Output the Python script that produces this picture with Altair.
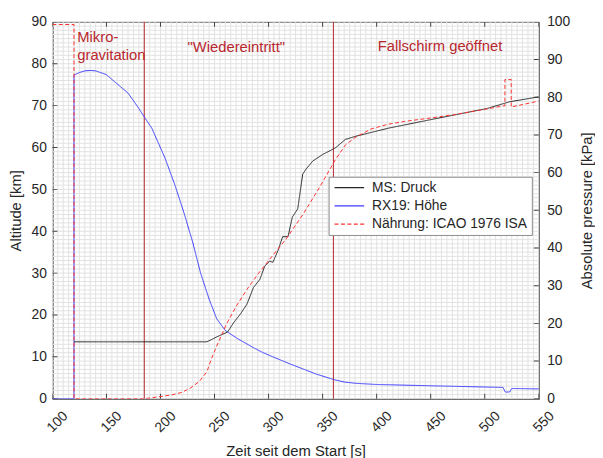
import altair as alt
import pandas as pd

# ---------------- data ----------------
series_names = ["MS: Druck", "RX19: Höhe", "Nährung: ICAO 1976 ISA"]

# RX19 altitude [km]
t_alt = [100, 120, 120, 125, 130, 135, 140, 150, 158, 170, 179, 185, 192, 204, 213, 222,
         230, 237, 245, 252, 260, 271, 286, 295, 304, 320, 344, 360, 370, 380, 400, 450,
         500, 517, 519, 523, 525, 550]
alt_km = [0, 0, 77.3, 77.9, 78.3, 78.4, 78.3, 77.4, 75.6, 73.0, 69.7, 67.3, 64.6, 57.6, 51.3, 44.2,
          37.2, 30.1, 23.8, 19.1, 16.3, 14.4, 12.2, 11.0, 10.0, 8.3, 5.9, 4.6, 4.0, 3.7, 3.4, 3.1,
          2.8, 2.7, 1.6, 1.6, 2.45, 2.35]

# MS pressure [kPa]
t_ms = [120, 243, 252, 262, 268, 274, 280, 286, 292, 296.5, 301, 304, 309, 313, 318, 322, 327,
        331.6, 334.6, 341, 350, 362, 371, 380, 411, 456, 502, 523, 550]
p_ms = [15.1, 15.1, 16.4, 17.7, 20.3, 22.5, 25.1, 29.5, 31.7, 35.2, 36.5, 36.2, 39.5, 43.0, 43.0,
        48.2, 50.4, 59.6, 60.9, 63.1, 64.8, 66.6, 68.8, 69.6, 71.8, 74.4, 77.0, 78.8, 80.1]

# ICAO 1976 ISA approximation [kPa]
t_isa = [100, 120, 120, 185, 198, 210, 220, 228, 236, 243, 247, 252, 256, 261, 270, 280, 290,
         301, 316, 332, 347, 362, 371, 380, 395, 410, 426, 450, 472, 500, 517, 518.7, 518.7,
         524.5, 524.5, 550]
p_isa = [99.3, 99.3, 0, 0, 0.5, 1.0, 1.7, 2.9, 4.6, 7.2, 10.5, 14.0, 16.5, 19.8, 24.5, 29.0, 33.0,
         37.0, 42.3, 49.0, 56.0, 63.5, 67.3, 69.3, 71.6, 72.8, 73.6, 74.5, 75.4, 76.8, 77.7, 77.7, 84.7,
         84.7, 77.4, 79.0]

phase_lines = [185, 360]
ann_text = ["Mikro-", "gravitation", '"Wiedereintritt"', "Fallschirm geöffnet"]
ann_t = [123, 123, 225, 401]
ann_alt = [85.1, 80.8, 82.9, 83.1]

x_domain = [100, 550]
alt_domain = [0, 90]
p_domain = [0, 100]
x_ticks = list(range(100, 551, 50))
alt_ticks = list(range(0, 91, 10))
p_ticks = list(range(0, 101, 10))
x_minor = list(range(100, 551, 5))
alt_minor = list(range(0, 91, 1))
# ---------------------------------------------------------------

df_alt = pd.DataFrame({"t": t_alt, "v": alt_km, "series": series_names[1], "i": range(len(t_alt))})
df_p = pd.concat([
    pd.DataFrame({"t": t_ms, "v": p_ms, "series": series_names[0], "i": range(len(t_ms))}),
    pd.DataFrame({"t": t_isa, "v": p_isa, "series": series_names[2], "i": range(len(t_isa))}),
])
df_lines = pd.DataFrame({"t": phase_lines})
df_ann = pd.DataFrame({"t": ann_t, "v": ann_alt, "txt": ann_text})
df_gx = pd.DataFrame({"t": x_minor})
df_gy = pd.DataFrame({"v": alt_minor})
df_xt = pd.DataFrame({"t": x_ticks * 2, "v": [alt_domain[0]] * len(x_ticks) + [alt_domain[1]] * len(x_ticks)})
df_yt = pd.DataFrame({"t": [x_domain[0]] * len(alt_ticks), "v": alt_ticks})
df_pt = pd.DataFrame({"t": [x_domain[1]] * len(p_ticks), "v": p_ticks})

FONT = "Liberation Sans"
TXT = "#262626"
AXC = "#404040"
GRID = "#e2e2e2"
DARKRED = "#b8272d"

x_scale = alt.Scale(domain=x_domain, nice=False, zero=False)
x_axis = alt.Axis(
    values=x_ticks, ticks=False, grid=False, labelOverlap=False,
    labelAngle=-45, labelAlign="right", labelBaseline="middle", labelOffset=13,
    labelPadding=15, labelFontSize=14, labelColor=TXT,
    title="Zeit seit dem Start [s]", titleFontSize=15, titleColor=TXT, titleFontWeight="normal",
    titlePadding=9, domainColor=AXC,
)
yl_scale = alt.Scale(domain=alt_domain, nice=False)
yl_axis = alt.Axis(values=alt_ticks, ticks=False, grid=False, labelOverlap=False,
                   labelFontSize=14, labelColor=TXT, labelPadding=6,
                   title="Altitude [km]", titleFontSize=15, titleColor=TXT,
                   titleFontWeight="normal", titlePadding=8, domainColor=AXC)
yp_scale = alt.Scale(domain=p_domain, nice=False)
yp_axis = alt.Axis(orient="right", values=p_ticks, ticks=False, grid=False, labelOverlap=False,
                   labelFontSize=14, labelColor=TXT, labelPadding=8,
                   title="Absolute pressure [kPa]", titleFontSize=15, titleColor=TXT,
                   titleFontWeight="normal", titleAngle=270, titleBaseline="top",
                   titlePadding=10, domainColor=AXC)

color_scale = alt.Scale(domain=series_names, range=["#262626", "#3a3aff", "#ff3030"])
dash_scale = alt.Scale(domain=series_names, range=[[1, 0], [1, 0], [4, 2.5]])
leg = alt.Legend(title=None, orient="none", legendX=280, legendY=157,
                 symbolType="M-1,0H5", symbolSize=100, symbolStrokeWidth=1.2,
                 labelFontSize=14, labelColor=TXT,
                 fillColor="white", strokeColor="#8c8c8c", padding=4, rowPadding=4.5,
                 labelOffset=26)

X = alt.X("t:Q", scale=x_scale, axis=x_axis)
YL = alt.Y("v:Q", scale=yl_scale, axis=yl_axis)
YP = alt.Y("v:Q", scale=yp_scale, axis=yp_axis)

grid_x = alt.Chart(df_gx).mark_rule(color=GRID, strokeWidth=1).encode(x=X)
grid_y = alt.Chart(df_gy).mark_rule(color=GRID, strokeWidth=1).encode(y=YL)

blue = alt.Chart(df_alt).mark_line(strokeWidth=1, clip=True).encode(
    x=X, y=YL,
    color=alt.Color("series:N", scale=color_scale, legend=leg),
    strokeDash=alt.StrokeDash("series:N", scale=dash_scale, legend=leg),
    order="i:Q",
)

rules = alt.Chart(df_lines).mark_rule(color=DARKRED, strokeWidth=1).encode(x=X)

texts = alt.Chart(df_ann).mark_text(align="left", baseline="alphabetic", fontSize=15,
                                    font=FONT, color=DARKRED).encode(
    x=X, y=YL, text="txt:N",
)

xticks_in = alt.Chart(df_xt).mark_tick(orient="vertical", size=10, thickness=1, color=AXC,
                                       clip=True, opacity=1).encode(x=X, y=YL)
yticks_in = alt.Chart(df_yt).mark_tick(orient="horizontal", size=10, thickness=1, color=AXC,
                                       clip=True, opacity=1).encode(x=X, y=YL)

press = alt.Chart(df_p).mark_line(strokeWidth=1, clip=True).encode(
    x=X, y=YP,
    color=alt.Color("series:N", scale=color_scale, legend=leg),
    strokeDash=alt.StrokeDash("series:N", scale=dash_scale, legend=leg),
    detail="series:N",
    order="i:Q",
)
pticks_in = alt.Chart(df_pt).mark_tick(orient="horizontal", size=10, thickness=1, color=AXC,
                                       clip=True, opacity=1).encode(x=X, y=YP)

left = alt.layer(grid_x, grid_y, rules, xticks_in, yticks_in, blue, texts)
right = alt.layer(pticks_in, press)
chart = alt.layer(left, right).resolve_scale(y="independent").properties(
    width=493, height=382,
    autosize=alt.AutoSizeParams(type="none"),
    padding={"left": 45, "top": 11, "right": 57, "bottom": 57},
).configure(font=FONT).configure_view(stroke=AXC, strokeWidth=1)

chart.save("out.html", embed_options={"renderer": "svg", "actions": False})
